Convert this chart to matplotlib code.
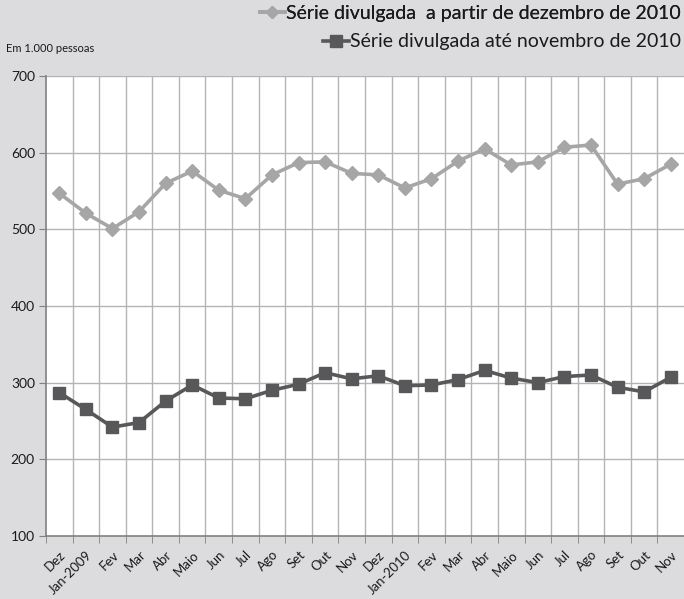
import matplotlib
matplotlib.use("Agg")
import matplotlib.pyplot as plt
from matplotlib.lines import Line2D
import numpy as np

plt.rcParams['font.family'] = ['Lato', 'DejaVu Sans']

categories = ["Dez", "Jan-2009", "Fev", "Mar", "Abr", "Maio", "Jun", "Jul", "Ago", "Set", "Out", "Nov",
              "Dez", "Jan-2010", "Fev", "Mar", "Abr", "Maio", "Jun", "Jul", "Ago", "Set", "Out", "Nov"]
serie_nova = [547, 521, 501, 523, 560, 576, 551, 540, 571, 587, 588, 573,
              571, 554, 566, 589, 605, 584, 588, 607, 610, 559, 566, 585]
serie_antiga = [287, 265, 242, 248, 276, 297, 280, 279, 290, 298, 313, 305,
                309, 296, 297, 304, 316, 306, 300, 308, 310, 294, 288, 307]
label_nova = "Série divulgada  a partir de dezembro de 2010"
label_antiga = "Série divulgada até novembro de 2010"
yticks = [100, 200, 300, 400, 500, 600, 700]

bg = "#dcdcde"
c_light = "#a6a6a6"
c_dark = "#58585a"
grid_c = "#b4b4b4"
txt_c = "#1a1a1a"

fig = plt.figure(figsize=(6.84, 5.99), dpi=100, facecolor=bg)
ax = fig.add_axes([46/684, 1-536/599, 1-46/684, (536-76)/599])
ax.set_facecolor("white")

x = np.arange(len(categories))
ax.plot(x, serie_nova, color=c_light, lw=2.6, marker="D", ms=7, mec=c_light, mfc=c_light, zorder=3)
ax.plot(x, serie_antiga, color=c_dark, lw=2.6, marker="s", ms=9, mec=c_dark, mfc=c_dark, zorder=3)

ax.set_xlim(-0.5, len(categories)-0.5)
ax.set_ylim(100, 700)
ax.set_yticks(yticks)
ax.set_yticklabels([str(v) for v in yticks], fontsize=10, color=txt_c)

# category labels at centers, ticks at boundaries
ax.set_xticks(x)
ax.set_xticklabels(categories, rotation=45, ha="right", rotation_mode="anchor", fontsize=9.5, color=txt_c)
ax.tick_params(axis="x", which="major", length=0, pad=9)
bounds = np.arange(-0.5, len(categories), 1.0)
ax.set_xticks(bounds, minor=True)
ax.tick_params(axis="x", which="minor", length=5, color="#808080", direction="out")
ax.tick_params(axis="y", length=5, color="#808080", direction="out", pad=3)

for b in bounds[1:-1]:
    ax.axvline(b, color=grid_c, lw=1, zorder=1)
for v in yticks[1:]:
    ax.axhline(v, color=grid_c, lw=1, zorder=1)

for s in ["top", "right"]:
    ax.spines[s].set_visible(False)
ax.spines["left"].set_color("#808080")
ax.spines["bottom"].set_color("#808080")
ax.spines["left"].set_linewidth(1.2)
ax.spines["bottom"].set_linewidth(1.2)

fig.text(6/684, 1-48/599, "Em 1.000 pessoas", fontsize=8, color=txt_c, va="center", ha="left")

h1 = Line2D([], [], color=c_light, lw=2.6, marker="D", ms=6, mfc=c_light, mec=c_light)
h2 = Line2D([], [], color=c_dark, lw=2.6, marker="s", ms=8, mfc=c_dark, mec=c_dark)
kw = dict(loc="center right", frameon=False, fontsize=14, handlelength=1.3, handletextpad=0.08,
          borderpad=0, borderaxespad=0.15, labelcolor=txt_c)
leg1 = fig.legend(handles=[h1], labels=[label_nova], bbox_to_anchor=(1.0, 1-13/599), **kw)
leg2 = fig.legend(handles=[h2], labels=[label_antiga], bbox_to_anchor=(1.0, 1-42/599), **kw)
fig.add_artist(leg1)

fig.savefig("out.png", dpi=100, facecolor=bg)
